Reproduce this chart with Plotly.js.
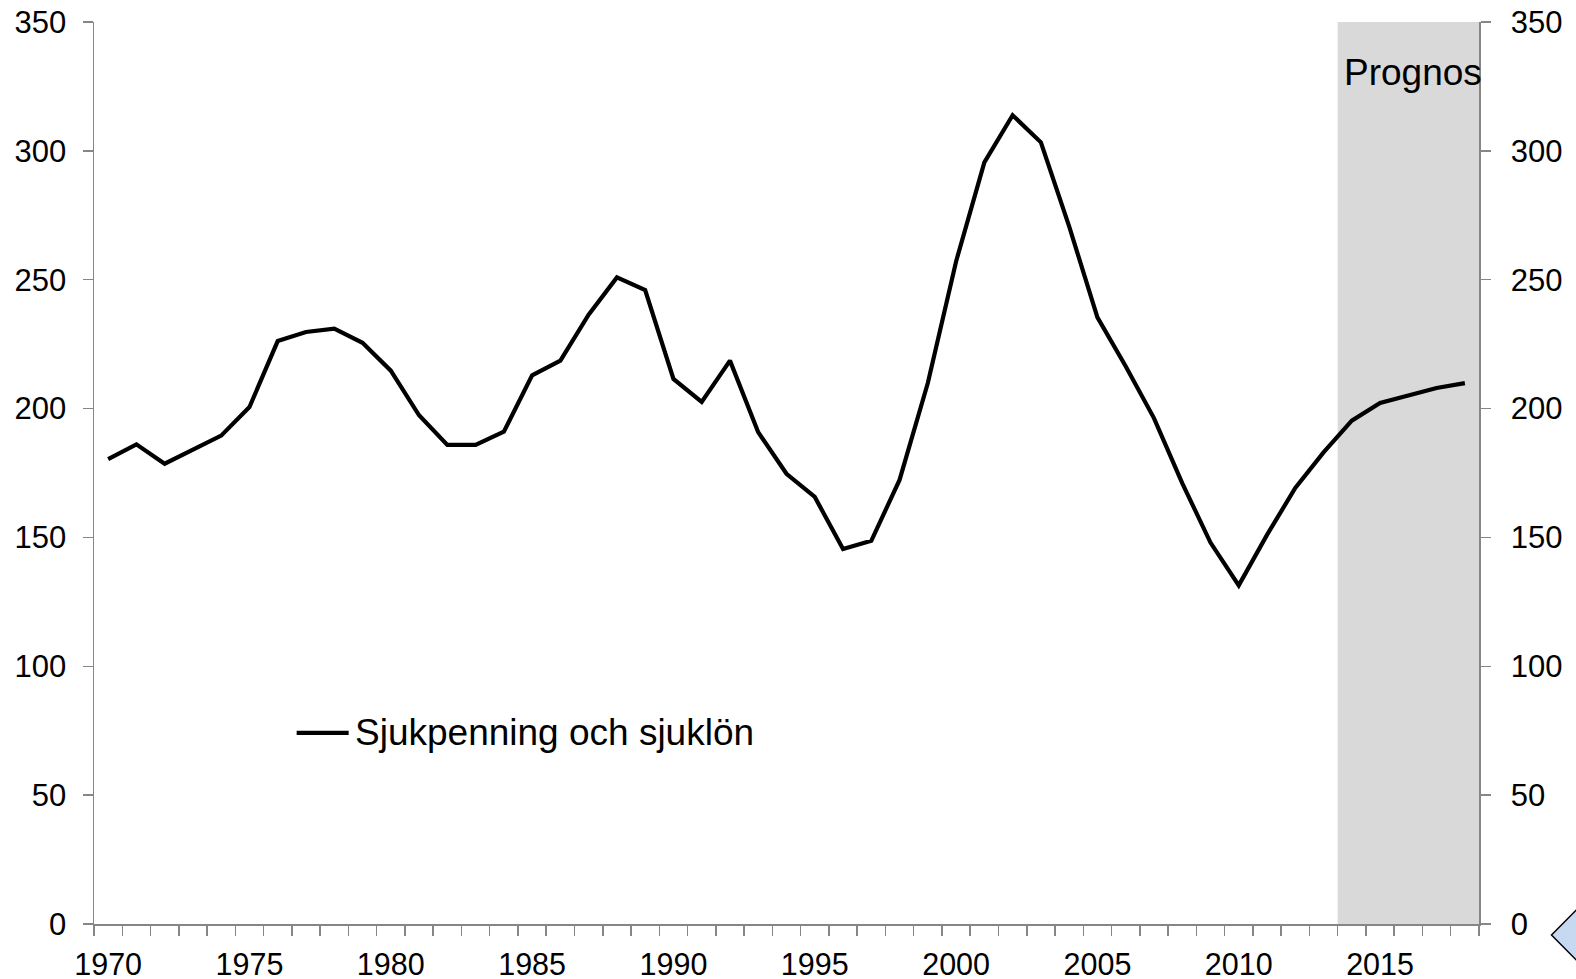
<!DOCTYPE html>
<html>
<head>
<meta charset="utf-8">
<script src="https://cdn.plot.ly/plotly-3.0.1.min.js"></script>
<style>
html,body{margin:0;padding:0;background:#fff;}
#chart{width:1576px;height:979px;}
</style>
</head>
<body>
<div id="chart"></div>
<script>
const years = [1970,1971,1972,1973,1974,1975,1976,1977,1978,1979,
               1980,1981,1982,1983,1984,1985,1986,1987,1988,1989,
               1990,1991,1992,1993,1994,1995,1996,1997,1998,1999,
               2000,2001,2002,2003,2004,2005,2006,2007,2008,2009,
               2010,2011,2012,2013,2014,2015,2016,2017,2018];
const sjukpenning = [180.4,186.1,178.6,184.1,189.5,200.6,226.2,229.7,231.0,225.5,
                     214.7,197.4,185.9,185.9,191.0,212.9,218.6,236.4,250.9,246.0,
                     211.5,202.6,218.6,190.8,174.7,165.7,145.5,148.7,172.3,209.9,
                     257.1,295.5,313.8,303.3,270.7,235.4,216.4,196.3,171.1,148.0,
                     131.4,151.0,169.2,183.0,195.3,202.2,205.1,208.0,209.9];
const seriesName = "Sjukpenning och sjuklön";
const forecastLabel = "Prognos";
const forecastStart = 2014;
const forecastEnd = 2018;
const xLabels = [1970,1975,1980,1985,1990,1995,2000,2005,2010,2015];
const yTicks = [0,50,100,150,200,250,300,350];

const W = 1576, H = 979;
const mL = 94, mR = 97, mT = 22, mB = 55;
const FONT = "Liberation Sans, Arial, sans-serif";
const axisColor = "#868686";

const boundaries = [];
for (let i = 0; i <= years.length; i++) boundaries.push(years[0] - 0.5 + i);
const xRange = [years[0] - 0.5, years[years.length - 1] + 0.5];

const pw = W - mL - mR, ph = H - mT - mB;
const px = x => (x - mL) / pw;
const py = y => 1 - (y - mT) / ph;

const trace = {
  x: years, y: sjukpenning, type: "scatter", mode: "lines",
  name: seriesName, showlegend: false,
  line: {color: "#000000", width: 4.2}, xaxis: "x", yaxis: "y", hoverinfo: "x+y"
};
const dummyRight = {
  x: [years[0]], y: [null], type: "scatter", mode: "lines",
  xaxis: "x2", yaxis: "y2", showlegend: false, hoverinfo: "skip"
};

const yBase = {
  range: [0, 350], tickvals: yTicks, ticks: "outside", ticklen: 10,
  tickcolor: axisColor, tickwidth: 1.5, showline: true, linecolor: axisColor,
  linewidth: 1.5, showgrid: false, zeroline: false,
  tickfont: {family: FONT, size: 31, color: "#000"}, fixedrange: true
};

const layout = {
  width: W, height: H,
  margin: {l: mL, r: mR, t: mT, b: mB, pad: 0},
  paper_bgcolor: "#fff", plot_bgcolor: "rgba(0,0,0,0)",
  showlegend: false,
  xaxis: {
    range: xRange, tickvals: boundaries, ticktext: boundaries.map(() => ""),
    ticks: "outside", ticklen: 10, tickcolor: axisColor, tickwidth: 1.5,
    showline: true, linecolor: axisColor, linewidth: 1.5,
    showgrid: false, zeroline: false, anchor: "y", fixedrange: true
  },
  xaxis2: {
    range: xRange, overlaying: "x", side: "bottom", anchor: "y",
    tickvals: xLabels, ticktext: xLabels.map(String), ticks: "",
    showline: false, showgrid: false, zeroline: false,
    tickfont: {family: FONT, size: 30.5, color: "#000"}, ticklabelstandoff: 19,
    fixedrange: true
  },
  yaxis: Object.assign({}, yBase, {side: "left", ticklabelstandoff: 10}),
  yaxis2: Object.assign({}, yBase, {side: "right", overlaying: "y", anchor: "x", ticklabelstandoff: 14}),
  shapes: [
    {type: "rect", xref: "x", yref: "y", x0: forecastStart - 0.5, x1: forecastEnd + 0.5,
     y0: 0, y1: 350, fillcolor: "#d9d9d9", line: {width: 0}, layer: "below"},
    {type: "line", xref: "x", yref: "y", x0: 1976.67, x1: 1978.51, y0: 74.2, y1: 74.2,
     line: {color: "#000", width: 4.2}},
    {type: "path", xref: "paper", yref: "paper",
     path: `M ${px(1551.5)} ${py(935)} L ${px(1600)} ${py(886)} L ${px(1650)} ${py(935)} L ${px(1600)} ${py(984)} Z`,
     fillcolor: "#c6d9f0", line: {color: "#000", width: 1.5}}
  ],
  annotations: [
    {xref: "x", yref: "y", x: 2016.15, y: 330.3, text: forecastLabel, showarrow: false,
     font: {family: FONT, size: 37, color: "#000"}, xanchor: "center", yanchor: "middle"},
    {xref: "x", yref: "y", x: 1978.65, y: 74.2, text: seriesName, showarrow: false,
     font: {family: FONT, size: 37, color: "#000"}, xanchor: "left", yanchor: "middle"}
  ]
};

Plotly.newPlot("chart", [trace, dummyRight], layout, {displayModeBar: false, staticPlot: true});
</script>
</body>
</html>
